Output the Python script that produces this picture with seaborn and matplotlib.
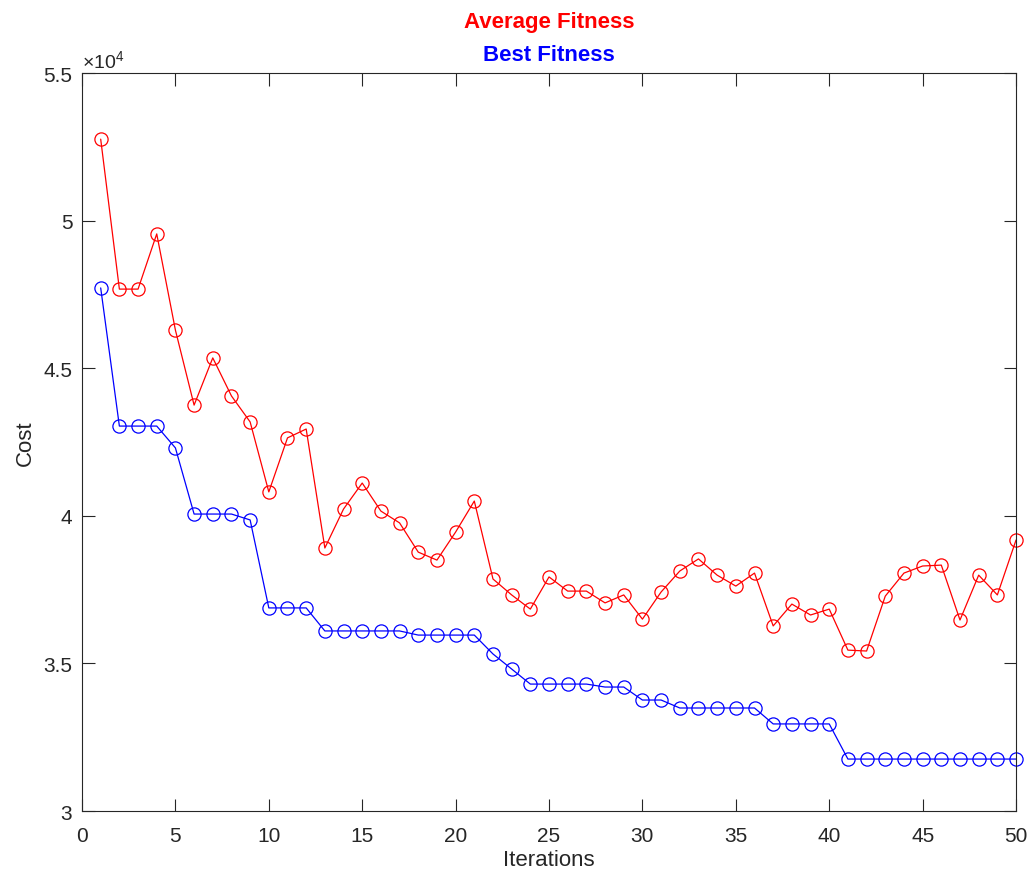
import numpy as np
import pandas as pd
import matplotlib
matplotlib.use("Agg")
import matplotlib.pyplot as plt
import seaborn as sns
from matplotlib.ticker import FuncFormatter, MultipleLocator

# dados (custo por iteração)
iteracoes = list(range(1, 51))
media = [52760, 47680, 47680, 49550, 46290, 43750, 45350, 44060, 43180, 40810,
         42640, 42940, 38910, 40230, 41110, 40160, 39760, 38770, 38500, 39450,
         40500, 37860, 37320, 36840, 37930, 37450, 37450, 37050, 37320, 36500,
         37420, 38130, 38540, 37990, 37620, 38060, 36270, 37010, 36640, 36840,
         35450, 35420, 37280, 38060, 38300, 38330, 36470, 37990, 37320, 39180]
melhor = [47720, 43040, 43040, 43040, 42300, 40060, 40060, 40060, 39860, 36880,
          36880, 36880, 36100, 36100, 36100, 36100, 36100, 35960, 35960, 35960,
          35960, 35320, 34810, 34300, 34300, 34300, 34300, 34200, 34200, 33760,
          33760, 33490, 33490, 33490, 33490, 33490, 32950, 32950, 32950, 32950,
          31760, 31760, 31760, 31760, 31760, 31760, 31760, 31760, 31760, 31760]

df = pd.DataFrame({"Iteracao": iteracoes, "Media": media, "Melhor": melhor})

sns.set_style("white")
plt.rcParams["font.family"] = ["Liberation Sans", "DejaVu Sans"]
plt.rcParams["mathtext.fontset"] = "custom"
plt.rcParams["mathtext.rm"] = "Liberation Sans"
plt.rcParams["mathtext.it"] = "Liberation Sans"
plt.rcParams["xtick.bottom"] = True
plt.rcParams["xtick.top"] = True
plt.rcParams["ytick.left"] = True
plt.rcParams["ytick.right"] = True

fig = plt.figure(figsize=(10.29, 8.79), dpi=100)
ax = fig.add_axes([0.0797, 0.0762, 0.9077, 0.8396])

estilo = dict(marker="o", markersize=9.5, markerfacecolor="none", linewidth=0.9,
              markeredgewidth=0.9, clip_on=False)
sns.lineplot(data=df, x="Iteracao", y="Media", color="red", markeredgecolor="red", ax=ax, **estilo)
sns.lineplot(data=df, x="Iteracao", y="Melhor", color="blue", markeredgecolor="blue", ax=ax, **estilo)

ax.set_xlim(0, 50)
ax.set_ylim(30000, 55000)
ax.xaxis.set_major_locator(MultipleLocator(5))
ax.yaxis.set_major_locator(MultipleLocator(5000))
ax.yaxis.set_major_formatter(FuncFormatter(lambda v, p: f"{v/1e4:g}"))
ax.text(0.0, 1.003, r"$\times10^4$", transform=ax.transAxes, fontsize=14, color="#262626",
        ha="left", va="bottom")

for s in ax.spines.values():
    s.set_visible(True)
    s.set_color("#262626")
    s.set_linewidth(0.8)
ax.tick_params(direction="in", length=9, width=0.8, top=True, right=True, bottom=True, left=True,
               labelsize=15, colors="#262626")
ax.tick_params(axis="x", pad=11)
ax.tick_params(axis="y", pad=7)

ax.set_xlabel("Iterations", fontsize=16, color="#262626", labelpad=3)
ax.set_ylabel("Cost", fontsize=16, color="#262626", labelpad=5)

ax.text(0.5, 1.055, "Average Fitness", transform=ax.transAxes, ha="center", va="bottom",
        color="red", fontsize=16, fontweight="bold")
ax.text(0.5, 1.011, "Best Fitness", transform=ax.transAxes, ha="center", va="bottom",
        color="blue", fontsize=16, fontweight="bold")

fig.savefig("out.png", dpi=100, facecolor="white")
